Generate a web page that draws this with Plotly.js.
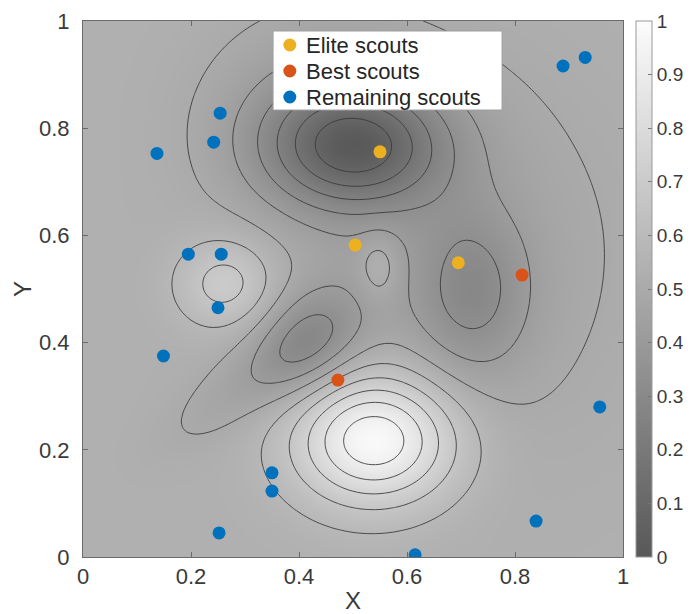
<!DOCTYPE html>
<html>
<head>
<meta charset="utf-8">
<script src="https://cdn.plot.ly/plotly-3.0.1.min.js"></script>
<style>
  html, body { margin: 0; padding: 0; background: #fff; }
  #chart { width: 693px; height: 614px; }
</style>
</head>
<body>
<div id="chart"></div>
<script>
// Fitness landscape: a flat level with a few Gaussian peaks and pits
const baseLevel = 0.54;
const peakX   = [0.503, 0.43, 0.72, 0.415, 0.29, 0.67, 0.54, 0.265, 0.548];
const peakY   = [0.765, 0.85, 0.495, 0.40, 0.31, 0.57, 0.22, 0.51, 0.542];
const peakAmp = [-0.43, -0.08, -0.18, -0.21, -0.06, -0.075, 0.47, 0.18, 0.09];
const peakSx  = [0.118, 0.14, 0.075, 0.08, 0.12, 0.26, 0.105, 0.065, 0.026];
const peakSy  = [0.082, 0.12, 0.11, 0.06, 0.045, 0.28, 0.085, 0.06, 0.044];
const peakRot = [0, 0, 0, 45, 35, 0, 0, 0, 0];

// Scout positions
const eliteX  = [0.550, 0.504, 0.695];
const eliteY  = [0.756, 0.582, 0.549];
const bestX   = [0.813, 0.472];
const bestY   = [0.526, 0.330];
const remainX = [0.254, 0.242, 0.137, 0.195, 0.256, 0.250, 0.149, 0.350, 0.350, 0.252, 0.957, 0.839, 0.615, 0.889, 0.930];
const remainY = [0.828, 0.774, 0.753, 0.565, 0.565, 0.465, 0.375, 0.157, 0.123, 0.045, 0.280, 0.067, 0.004, 0.916, 0.932];

const seriesNames = ['Elite scouts', 'Best scouts', 'Remaining scouts'];
const seriesColors = ['#EDB120', '#D95319', '#0072BD'];

const axisTicks = [0, 0.2, 0.4, 0.6, 0.8, 1];
const axisTickText = ['0', '0.2', '0.4', '0.6', '0.8', '1'];
const barTicks = [0, 0.1, 0.2, 0.3, 0.4, 0.5, 0.6, 0.7, 0.8, 0.9, 1];
const barTickText = ['0', '0.1', '0.2', '0.3', '0.4', '0.5', '0.6', '0.7', '0.8', '0.9', '1'];

const FONT = 'Liberation Sans, Arial, sans-serif';

// Sample the landscape on a regular grid
const N = 121;
const gx = [], gy = [];
for (let i = 0; i < N; i++) { gx.push(i / (N - 1)); gy.push(i / (N - 1)); }
const gz = gy.map(y => gx.map(x => {
  let v = baseLevel;
  for (let k = 0; k < peakX.length; k++) {
    const a = peakRot[k] * Math.PI / 180;
    const dx = x - peakX[k], dy = y - peakY[k];
    const u = dx * Math.cos(a) + dy * Math.sin(a);
    const w = -dx * Math.sin(a) + dy * Math.cos(a);
    v += peakAmp[k] * Math.exp(-0.5 * (u * u / (peakSx[k] * peakSx[k]) + w * w / (peakSy[k] * peakSy[k])));
  }
  return v;
}));

const grayScale = [[0, 'rgb(88,88,88)'], [1, 'rgb(252,252,252)']];

// Smooth shading with its colour bar
const shading = {
  type: 'heatmap', x: gx, y: gy, z: gz,
  zmin: 0, zmax: 1, zsmooth: 'best',
  colorscale: grayScale, hoverinfo: 'skip',
  colorbar: {
    x: 1.024, xanchor: 'left', xref: 'paper', xpad: 0, ypad: 0,
    y: 0.5, yanchor: 'middle', len: 1, lenmode: 'fraction',
    thickness: 16, outlinewidth: 1, outlinecolor: '#9a9a9a',
    tickmode: 'array', tickvals: barTicks, ticktext: barTickText,
    ticks: 'inside', ticklen: 4, tickcolor: '#777',
    tickfont: { family: FONT, size: 19, color: '#3a3a3a' }
  }
};

// Iso-lines of the same landscape
const isolines = {
  type: 'contour', x: gx, y: gy, z: gz,
  showscale: false, hoverinfo: 'skip',
  contours: { start: 1 / 12, end: 11 / 12, size: 1 / 12, coloring: 'none' },
  line: { color: 'rgba(55,55,55,0.85)', width: 1, smoothing: 1 }
};

function scouts(xs, ys, idx) {
  return {
    type: 'scatter', mode: 'markers', x: xs, y: ys,
    name: seriesNames[idx], showlegend: false,
    marker: { size: 13, color: seriesColors[idx], line: { width: 0 } }
  };
}

// Legend box drawn in paper coordinates
const legX = 0.383, legTextX = 0.409;
const legRows = [0.9552, 0.9067, 0.8582];
const shapes = [{
  type: 'rect', xref: 'paper', yref: 'paper',
  x0: 0.352, x1: 0.776, y0: 0.8339, y1: 0.9813,
  fillcolor: 'white', line: { color: '#a0a0a0', width: 1 }, layer: 'above'
}];
const annotations = [];
legRows.forEach((ry, i) => {
  shapes.push({
    type: 'circle', xref: 'paper', yref: 'paper',
    xsizemode: 'pixel', ysizemode: 'pixel', xanchor: legX, yanchor: ry,
    x0: -6.5, x1: 6.5, y0: -6.5, y1: 6.5,
    fillcolor: seriesColors[i], line: { width: 0 }, layer: 'above'
  });
  annotations.push({
    xref: 'paper', yref: 'paper', x: legTextX, y: ry,
    xanchor: 'left', yanchor: 'middle', showarrow: false,
    text: seriesNames[i],
    font: { family: FONT, size: 22, color: '#262626' }
  });
});

const axisCommon = {
  range: [0, 1], tickmode: 'array', tickvals: axisTicks, ticktext: axisTickText,
  showgrid: false, zeroline: false,
  showline: true, linecolor: '#6a6a6a', linewidth: 1, mirror: 'ticks',
  ticks: 'inside', ticklen: 5, tickcolor: '#6a6a6a',
  tickfont: { family: FONT, size: 22, color: '#3a3a3a' }
};

const layout = {
  width: 693, height: 614,
  margin: { l: 83, r: 70, t: 21, b: 57, autoexpand: false },
  paper_bgcolor: 'white', plot_bgcolor: 'white',
  showlegend: false,
  xaxis: Object.assign({}, axisCommon, {
    title: { text: 'X', standoff: 4, font: { family: FONT, size: 24, color: '#3a3a3a' } }
  }),
  yaxis: Object.assign({}, axisCommon, {
    ticklabelstandoff: 8,
    title: { text: 'Y', standoff: 0, font: { family: FONT, size: 24, color: '#3a3a3a' } }
  }),
  shapes: shapes,
  annotations: annotations
};

Plotly.newPlot('chart', [
  shading,
  isolines,
  scouts(remainX, remainY, 2),
  scouts(bestX, bestY, 1),
  scouts(eliteX, eliteY, 0)
], layout, { displayModeBar: false, staticPlot: true });
</script>
</body>
</html>
